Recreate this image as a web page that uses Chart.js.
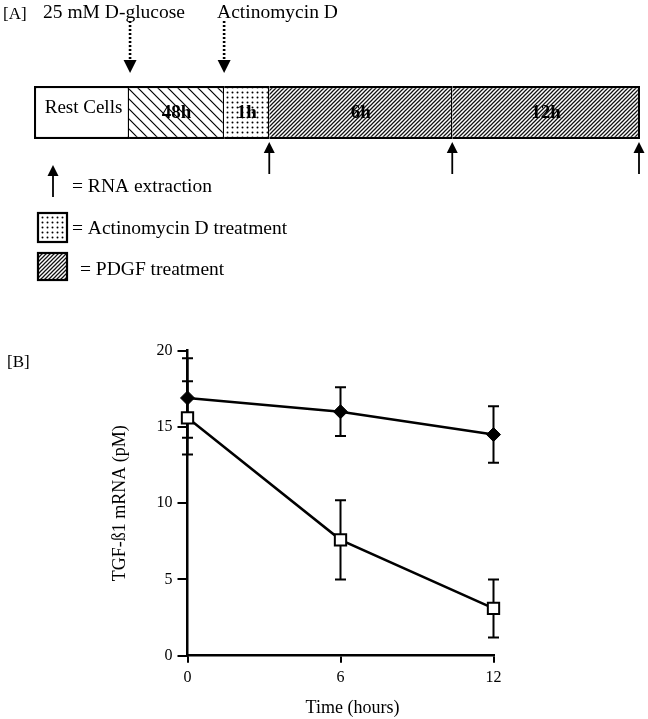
<!DOCTYPE html>
<html><head><meta charset="utf-8">
<script src="https://cdn.jsdelivr.net/npm/chart.js@4/dist/chart.umd.min.js"></script>
<style>
html,body{margin:0;padding:0;background:#fff;width:648px;height:719px;overflow:hidden}
#chartA{position:absolute;left:0;top:0}
#chartB{position:absolute;left:0;top:290px}
</style></head><body>
<canvas id="chartA" width="648" height="290"></canvas>
<canvas id="chartB" width="648" height="429"></canvas>
<script>
// ---------- Panel A data (schematic timeline) ----------
const stageLabels = ['Rest Cells', '48h', '1h', '6h', '12h'];
const stageLengths = [2.0, 2.0, 0.95, 3.85, 3.95];
const stageFillKinds = ['plain', 'wideBackHatch', 'dots', 'fineHatch', 'fineHatch'];
const treatmentLabels = ['25 mM D-glucose', 'Actinomycin D'];
const treatmentAfterStage = [0, 1];
const rnaExtractionAfterStage = [2, 3, 4];
const legendLabels = ['= RNA extraction', '= Actinomycin D treatment', '= PDGF treatment'];

// ---------- Panel B data ----------
const hours = [0, 6, 12];
const diamondMean = [16.9, 16.0, 14.5];
const diamondErr = [2.6, 1.6, 1.85];
const squareMean = [15.6, 7.6, 3.1];
const squareErr = [2.4, 2.6, 1.9];
const xTickStep = 6;
const yTickStep = 5;
const xTitle = 'Time (hours)';
const yTitle = 'TGF-ß1 mRNA (pM)';

const serif = "'Liberation Serif', 'Times New Roman', Times, serif";
Chart.defaults.font.family = serif;
Chart.defaults.color = '#000';

function makeFill(kind) {
  if (kind === 'plain') return '#ffffff';
  const c = document.createElement('canvas');
  const g = c.getContext('2d');
  let s;
  if (kind === 'wideBackHatch') {
    s = 10; c.width = s; c.height = s;
    g.fillStyle = '#fff'; g.fillRect(0, 0, s, s);
    g.strokeStyle = '#000'; g.lineWidth = 1.2;
    g.beginPath();
    g.moveTo(-1, -1); g.lineTo(s + 1, s + 1);
    g.moveTo(s - 1, -1); g.lineTo(s + 1, 1);
    g.moveTo(-1, s - 1); g.lineTo(1, s + 1);
    g.stroke();
  } else if (kind === 'fineHatch') {
    s = 4; c.width = s; c.height = s;
    g.fillStyle = '#fff'; g.fillRect(0, 0, s, s);
    g.strokeStyle = '#111'; g.lineWidth = 1.25;
    g.beginPath();
    g.moveTo(0, s); g.lineTo(s, 0);
    g.moveTo(-1, 1); g.lineTo(1, -1);
    g.moveTo(s - 1, s + 1); g.lineTo(s + 1, s - 1);
    g.stroke();
  } else if (kind === 'dots') {
    s = 5; c.width = s; c.height = s;
    g.fillStyle = '#fff'; g.fillRect(0, 0, s, s);
    g.fillStyle = '#000';
    g.beginPath(); g.arc(2.5, 2.5, 1.0, 0, Math.PI * 2); g.fill();
  }
  return g.createPattern(c, 'repeat');
}
const stageFills = stageFillKinds.map(makeFill);

function upArrow(ctx, x, tipY, bottomY) {
  ctx.save();
  ctx.lineWidth = 1.8;
  ctx.beginPath(); ctx.moveTo(x, tipY + 8); ctx.lineTo(x, bottomY); ctx.stroke();
  ctx.beginPath(); ctx.moveTo(x, tipY); ctx.lineTo(x - 5.5, tipY + 11); ctx.lineTo(x + 5.5, tipY + 11); ctx.closePath(); ctx.fill();
  ctx.restore();
}
function dottedDownArrow(ctx, x, startY, tipY) {
  ctx.save();
  ctx.lineWidth = 2.6; ctx.setLineDash([2, 2]);
  ctx.beginPath(); ctx.moveTo(x, startY); ctx.lineTo(x, tipY - 12); ctx.stroke();
  ctx.setLineDash([]);
  ctx.beginPath(); ctx.moveTo(x - 6.5, tipY - 13); ctx.lineTo(x + 6.5, tipY - 13); ctx.lineTo(x, tipY); ctx.closePath(); ctx.fill();
  ctx.restore();
}

const panelAOverlay = {
  id: 'panelAOverlay',
  afterDatasetsDraw(chart) {
    const ctx = chart.ctx;
    const area = chart.chartArea;
    const els = chart.data.datasets.map((d, i) => chart.getDatasetMeta(i).data[0].getProps(['x', 'base'], true));
    ctx.save();
    ctx.fillStyle = '#000'; ctx.strokeStyle = '#000';
    ctx.textBaseline = 'alphabetic';
    ctx.textAlign = 'left';
    ctx.font = `17px ${serif}`;
    ctx.fillText('[A]', 3, 19);
    ctx.textAlign = 'center';
    stageLabels.forEach((lab, i) => {
      const cx = (els[i].x + els[i].base) / 2;
      if (i === 0) { ctx.font = `19px ${serif}`; ctx.fillText(lab, cx + 2, area.top + 27); }
      else { ctx.font = `bold 19px ${serif}`; ctx.fillText(lab, cx, area.top + 32); }
    });
    const labelOffsets = [-87, -7];
    treatmentAfterStage.forEach((si, k) => {
      const x = els[si].x + (k === 0 ? 1 : 0);
      dottedDownArrow(ctx, x, 21, area.top - 13);
      ctx.font = `19.5px ${serif}`; ctx.textAlign = 'left';
      ctx.fillText(treatmentLabels[k], x + labelOffsets[k], 18);
    });
    rnaExtractionAfterStage.forEach(si => {
      const x = Math.min(els[si].x, area.right - 1);
      upArrow(ctx, x, area.bottom + 3, area.bottom + 35);
    });
    ctx.textAlign = 'left';
    ctx.font = `19.5px ${serif}`;
    upArrow(ctx, 53, 165, 197);
    ctx.fillText(legendLabels[0], 72, 192);
    ctx.fillStyle = stageFills[2];
    ctx.fillRect(38, 213, 29, 29);
    ctx.lineWidth = 2.2; ctx.strokeRect(38, 213, 29, 29);
    ctx.fillStyle = '#000';
    ctx.fillText(legendLabels[1], 72, 234);
    ctx.fillStyle = stageFills[3];
    ctx.fillRect(38, 253, 29, 27);
    ctx.strokeRect(38, 253, 29, 27);
    ctx.fillStyle = '#000';
    ctx.fillText(legendLabels[2], 80, 275);
    ctx.restore();
  }
};

const totalLen = stageLengths.reduce((a, b) => a + b, 0);
new Chart(document.getElementById('chartA'), {
  type: 'bar',
  data: {
    labels: ['timeline'],
    datasets: stageLabels.map((lab, i) => ({
      label: lab,
      data: [stageLengths[i]],
      backgroundColor: stageFills[i],
      borderColor: '#000',
      borderWidth: { top: 2.2, bottom: 2.2, left: i === 0 ? 2.2 : 0, right: i === stageLabels.length - 1 ? 2.2 : 1.4 },
      borderSkipped: false,
      barPercentage: 1,
      categoryPercentage: 1,
      inflateAmount: 0
    }))
  },
  options: {
    indexAxis: 'y',
    responsive: false,
    animation: false,
    layout: { padding: { left: 34, right: 8, top: 86, bottom: 151 } },
    scales: {
      x: { stacked: true, display: false, min: 0, max: totalLen },
      y: { stacked: true, display: false }
    },
    plugins: { legend: { display: false }, tooltip: { enabled: false } }
  },
  plugins: [panelAOverlay]
});

// ---------- Panel B ----------
const errorBars = {
  id: 'errorBars',
  beforeDatasetsDraw(chart) {
    const ctx = chart.ctx;
    const xs = chart.scales.x, ys = chart.scales.y;
    ctx.save();
    ctx.strokeStyle = '#000'; ctx.lineWidth = 2;
    chart.data.datasets.forEach(ds => {
      ds.data.forEach((p, i) => {
        const e = ds.errors[i];
        const x = xs.getPixelForValue(p.x);
        const y1 = ys.getPixelForValue(p.y + e);
        const y2 = ys.getPixelForValue(p.y - e);
        ctx.beginPath();
        ctx.moveTo(x, y1); ctx.lineTo(x, y2);
        ctx.moveTo(x - 5.5, y1); ctx.lineTo(x + 5.5, y1);
        ctx.moveTo(x - 5.5, y2); ctx.lineTo(x + 5.5, y2);
        ctx.stroke();
      });
    });
    ctx.restore();
  },
  afterDraw(chart) {
    const ctx = chart.ctx;
    const area = chart.chartArea;
    ctx.save();
    ctx.fillStyle = '#000';
    ctx.font = `17px ${serif}`;
    ctx.textAlign = 'left'; ctx.textBaseline = 'alphabetic';
    ctx.fillText('[B]', 7, 77);
    ctx.font = `18px ${serif}`;
    ctx.textAlign = 'center';
    ctx.fillText(xTitle, (area.left + area.right) / 2 + 12, area.bottom + 57);
    ctx.restore();
  }
};

new Chart(document.getElementById('chartB'), {
  type: 'scatter',
  data: {
    datasets: [
      {
        label: 'Closed diamonds',
        data: hours.map((h, i) => ({ x: h, y: diamondMean[i] })),
        errors: diamondErr,
        showLine: true,
        borderColor: '#000', borderWidth: 2.5,
        pointStyle: 'rectRot', pointRadius: 7,
        pointBackgroundColor: '#000', pointBorderColor: '#000', pointBorderWidth: 1,
        clip: false
      },
      {
        label: 'Open squares',
        data: hours.map((h, i) => ({ x: h, y: squareMean[i] })),
        errors: squareErr,
        showLine: true,
        borderColor: '#000', borderWidth: 2.5,
        pointStyle: 'rect', pointRadius: 8,
        pointBackgroundColor: '#fff', pointBorderColor: '#000', pointBorderWidth: 2,
        clip: false
      }
    ]
  },
  options: {
    responsive: false,
    animation: false,
    layout: { padding: { left: 105, right: 154.5, top: 60.7, bottom: 0 } },
    scales: {
      x: {
        type: 'linear', min: 0, max: 12,
        ticks: { stepSize: xTickStep, font: { size: 16 }, color: '#000', padding: 5, maxRotation: 0 },
        grid: { drawOnChartArea: false, drawTicks: true, tickLength: 7, color: '#000', lineWidth: 2 },
        border: { display: true, color: '#000', width: 2.5 },
        title: { display: false },
        afterFit: s => { s.height = 63.3; }
      },
      y: {
        type: 'linear', min: 0, max: 20,
        ticks: { stepSize: yTickStep, font: { size: 16 }, color: '#000', padding: 5 },
        grid: { drawOnChartArea: false, drawTicks: true, tickLength: 10, color: '#000', lineWidth: 2 },
        border: { display: true, color: '#000', width: 2.5 },
        title: { display: true, text: yTitle, font: { size: 18 }, color: '#000', padding: { top: 4, bottom: 4 } },
        afterFit: s => { s.width = 82.5; }
      }
    },
    plugins: { legend: { display: false }, tooltip: { enabled: false } }
  },
  plugins: [errorBars]
});
</script>
</body></html>
